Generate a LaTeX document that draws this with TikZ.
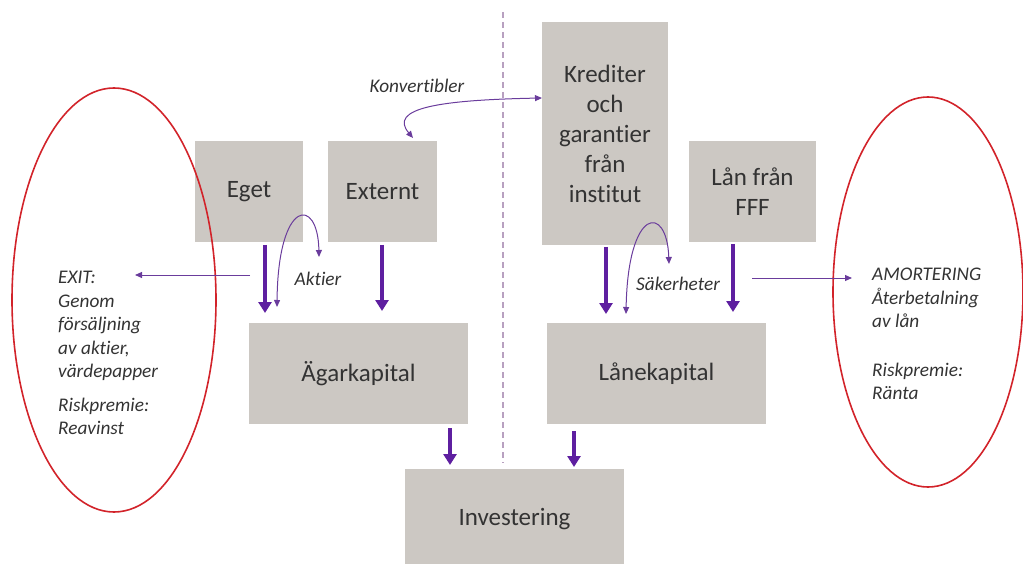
\documentclass[tikz,border=0pt]{standalone}
\usepackage{fontspec}
\setmainfont[Ligatures=NoCommon]{Carlito}
\usetikzlibrary{arrows.meta,shapes.geometric}
\definecolor{boxgray}{HTML}{CCC8C3}
\definecolor{txt}{HTML}{333333}
\definecolor{pthick}{HTML}{5E1FA0}
\definecolor{pthin}{HTML}{6A3C9C}
\definecolor{ered}{HTML}{D2232A}
\definecolor{dashc}{HTML}{B8A0C0}
\tikzset{
  box/.style={fill=boxgray, draw=none, text=txt, align=center, inner sep=0pt,
    font=\fontsize{25}{30}\selectfont},
  lbl/.style={text=txt, inner sep=0pt, font=\fontsize{19.3}{23.5}\selectfont\itshape},
  big/.style={draw=pthick, line width=3.6pt, -{Triangle[width=13pt,length=11pt]}},
  thin/.style={draw=pthin, line width=1pt, -{Triangle[width=6pt,length=7pt]}},
  both/.style={draw=pthin, line width=1pt, {Triangle[width=6pt,length=7pt]}-{Triangle[width=6pt,length=7pt]}},
  oval/.style={ellipse, draw=ered, line width=1.6pt, inner sep=0pt}
}
\begin{document}
\begin{tikzpicture}[x=1pt,y=-1pt]
\useasboundingbox (0,0) rectangle (1023,564);
% dashed separator
\coordinate (dtop) at (503,12);
\coordinate (dbot) at (503,463);
\draw[dashc, line width=1.2pt, dash pattern=on 6pt off 4pt] (dtop) -- (dbot);
% boxes
\node[box, minimum width=108pt, minimum height=101pt] (eget) at (249,191.5) {Eget};
\node[box, minimum width=109pt, minimum height=101pt] (ext) at (382.5,191.5) {Externt};
\node[box, minimum width=126pt, minimum height=223pt] (kred) at (605,133.5) {Krediter\\och\\garantier\\från\\institut};
\node[box, minimum width=127pt, minimum height=101pt] (fff) at (752.5,191.5) {Lån från\\FFF};
\node[box, minimum width=219pt, minimum height=101pt] (agar) at (358.5,373.5) {Ägarkapital};
\node[box, minimum width=219pt, minimum height=101pt] (lane) at (656.5,373.5) {Lånekapital};
\node[box, minimum width=219pt, minimum height=101pt] (inv) at (514.5,519.5) {Investering};
% ellipses
\node[oval, minimum width=204pt, minimum height=424pt] (lov) at (114,300) {};
\node[oval, minimum width=190pt, minimum height=390pt] (rov) at (928,292) {};
% ellipse texts
\node[lbl, align=left, anchor=north west] (exit) at (58,271) {EXIT:\\Genom\\försäljning\\av aktier,\\värdepapper\\[10pt]Riskpremie:\\Reavinst};
\node[lbl, align=left, anchor=north west] (amort) at (872,268) {AMORTERING\\Återbetalning\\av lån\\[25pt]Riskpremie:\\Ränta};
% labels
\node[lbl] (konv) at (417,86) {Konvertibler};
\node[lbl] (akt) at (318,279) {Aktier};
\node[lbl] (sak) at (678,284) {Säkerheter};
% thick arrows
\coordinate (a1s) at (265,245); \coordinate (a1e) at (265,313);
\coordinate (a2s) at (382,245); \coordinate (a2e) at (382,311);
\coordinate (a3s) at (606,247); \coordinate (a3e) at (606,314);
\coordinate (a4s) at (733,244); \coordinate (a4e) at (733,312);
\coordinate (a5s) at (450,428); \coordinate (a5e) at (450,465);
\coordinate (a6s) at (574,431); \coordinate (a6e) at (574,467);
\draw[big] (a1s) -- (a1e);
\draw[big] (a2s) -- (a2e);
\draw[big] (a3s) -- (a3e);
\draw[big] (a4s) -- (a4e);
\draw[big] (a5s) -- (a5e);
\draw[big] (a6s) -- (a6e);
% thin straight arrows
\coordinate (exs) at (250,275); \coordinate (exe) at (135,275);
\coordinate (ams) at (752,278); \coordinate (ame) at (852,278);
\draw[thin] (exs) -- (exe);
\draw[thin] (ams) -- (ame);
% curved double arrows
\coordinate (akl) at (277,307); \coordinate (akr) at (319,257);
\draw[both] (akl) .. controls (278,198) and (318,196) .. (akr);
\coordinate (skl) at (626,314); \coordinate (skr) at (669,264);
\draw[both] (skl) .. controls (628,206) and (667,204) .. (skr);
\coordinate (kvl) at (413,138); \coordinate (kvr) at (542,98);
\draw[both] (kvl) .. controls (388,108) and (440,100) .. (kvr);
\end{tikzpicture}
\end{document}
